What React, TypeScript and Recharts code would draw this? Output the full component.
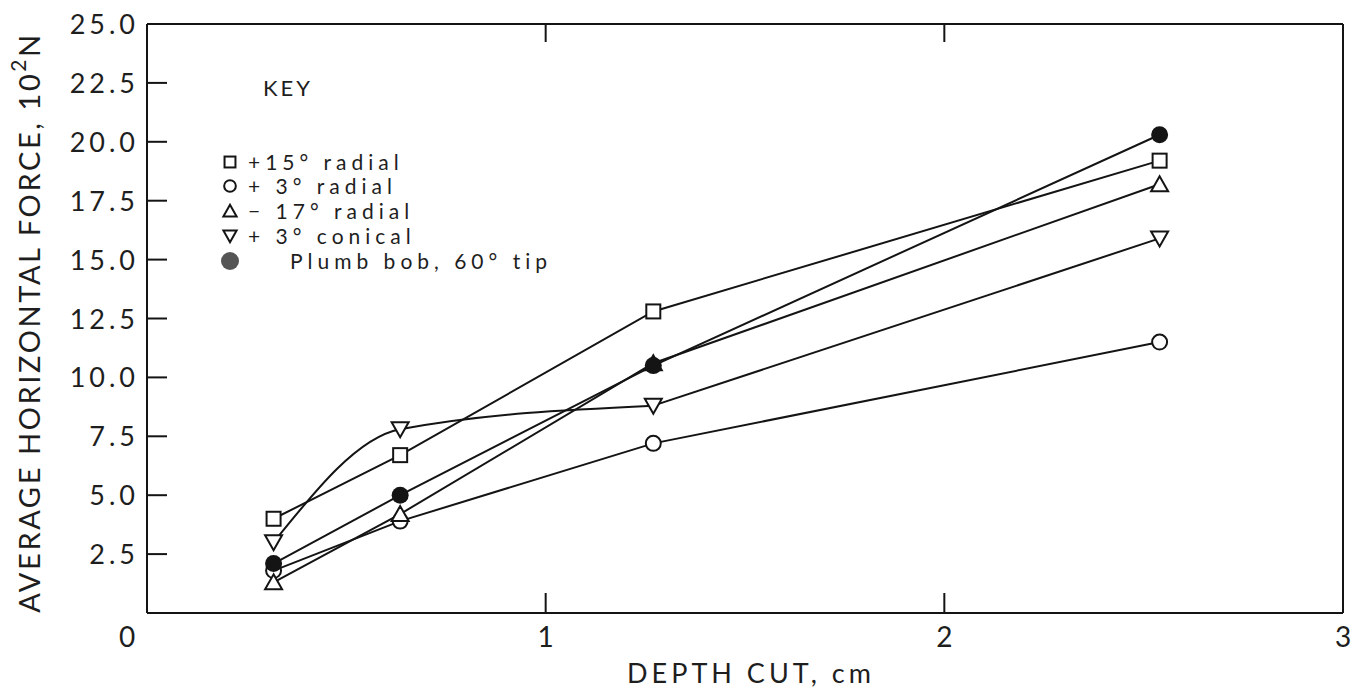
import React from "react";
import {
  LineChart,
  Line,
  XAxis,
  YAxis,
  Legend,
} from "recharts";

// depth of cut, cm (1/8, 1/4, 1/2, 1 in)
const depth = [0.3175, 0.635, 1.27, 2.54];

// average horizontal force, 10^2 N
const radial15 = [4.0, 6.7, 12.8, 19.2];
const radial3 = [1.8, 3.9, 7.2, 11.5];
const radialNeg17 = [1.3, 4.2, 10.6, 18.2];
const conical3 = [3.0, 7.8, 8.8, 15.9];
const plumbBob = [2.1, 5.0, 10.5, 20.3];

const xTicks = [0, 1, 2, 3];
const yTicks = [2.5, 5, 7.5, 10, 12.5, 15, 17.5, 20, 22.5, 25];

const SERIES = [
  { key: "r15", label: "+15° radial", shape: "square", values: radial15 },
  { key: "r3", label: "+ 3° radial", shape: "circle", values: radial3 },
  { key: "rm17", label: "− 17° radial", shape: "up", values: radialNeg17 },
  { key: "c3", label: "+ 3° conical", shape: "down", values: conical3 },
  { key: "pb", label: "Plumb bob, 60° tip", shape: "filled", values: plumbBob },
];

const data = depth.map((d, i) => {
  const row: Record<string, number | null> = { depth: d };
  SERIES.forEach((s) => (row[s.key] = s.values[i]));
  // the conical curve is bent over the first three points, straight after
  row.c3curve = i <= 2 ? conical3[i] : null;
  row.c3tail = i >= 2 ? conical3[i] : null;
  return row;
});

const INK = "#141414";
const TXT = "#1e1e1e";
const FONT = "Lato, 'DejaVu Sans', sans-serif";
const Y_W = 60; // left axis width (labels live here)
const X_H = 70; // bottom axis height

function Marker({ shape, cx, cy, s = 1, legend = false }: any) {
  const sw = 2;
  if (shape === "square") {
    const h = 7 * s;
    return <rect x={cx - h} y={cy - h} width={h * 2} height={h * 2} fill="#fff" stroke={INK} strokeWidth={sw} />;
  }
  if (shape === "circle") {
    return <circle cx={cx} cy={cy} r={7.5 * s} fill="#fff" stroke={INK} strokeWidth={sw} />;
  }
  if (shape === "up") {
    return (
      <polygon
        points={`${cx},${cy - 8 * s} ${cx - 8.5 * s},${cy + 7 * s} ${cx + 8.5 * s},${cy + 7 * s}`}
        fill="#fff"
        stroke={INK}
        strokeWidth={sw}
      />
    );
  }
  if (shape === "down") {
    return (
      <polygon
        points={`${cx - 8.5 * s},${cy - 7 * s} ${cx + 8.5 * s},${cy - 7 * s} ${cx},${cy + 8 * s}`}
        fill="#fff"
        stroke={INK}
        strokeWidth={sw}
      />
    );
  }
  return <circle cx={cx} cy={cy} r={legend ? 9 : 8.5} fill={legend ? "#555" : INK} />;
}

// tick renderers: ticks point inward, labels drawn by hand
const LeftTick = ({ x, y, payload }: any) => (
  <g>
    {payload.value < 25 && <line x1={x} x2={x + 20} y1={y} y2={y} stroke={INK} strokeWidth={2} />}
    <text x={x - 8} y={y + 10} textAnchor="end" fontFamily={FONT} fontSize={27} letterSpacing={4} fill={TXT}>
      {payload.value.toFixed(1)}
    </text>
  </g>
);

const RightTick = ({ x, y }: any) => (
  <line x1={x} x2={x - 20} y1={y} y2={y} stroke={INK} strokeWidth={2} />
);

const BottomTick = ({ x, y, payload }: any) => (
  <g>
    {payload.value > 0 && payload.value < 3 && (
      <line x1={x} x2={x} y1={y} y2={y - 20} stroke={INK} strokeWidth={2} />
    )}
    <text
      x={payload.value === 0 ? x - 20 : x}
      y={y + 34}
      textAnchor="middle"
      fontFamily={FONT}
      fontSize={28}
      fill={TXT}
    >
      {payload.value}
    </text>
  </g>
);

const TopTick = ({ x, y }: any) => (
  <line x1={x} x2={x} y1={y} y2={y + 18} stroke={INK} strokeWidth={2} />
);

function KeyBox() {
  const rowY = [102, 126, 151, 176, 201];
  return (
    <svg width={340} height={230} style={{ overflow: "visible" }}>
      <text x={53} y={36} fontFamily={FONT} fontSize={22} letterSpacing={3} fill={TXT}>
        KEY
      </text>
      {SERIES.map((s, i) => (
        <g key={s.key}>
          <Marker shape={s.shape} cx={20} cy={rowY[i]} s={0.78} legend />
          <text
            x={s.shape === "filled" ? 80 : 38}
            y={rowY[i] + 7.5}
            fontFamily={FONT}
            fontSize={21}
            letterSpacing={5}
            fill={TXT}
          >
            {s.label}
          </text>
        </g>
      ))}
    </svg>
  );
}

export default function App() {
  const dotFor = (shape: string, key: string) => (p: any) =>
    <Marker key={`${key}-${p.index}`} shape={shape} cx={p.cx} cy={p.cy} />;

  return (
    <div style={{ position: "absolute", left: 0, top: 0, background: "#fff" }}>
      <LineChart
        width={1364}
        height={691}
        data={data}
        margin={{ top: 23, right: 20, bottom: 691 - 613 - X_H, left: 147 - Y_W }}
      >
        <XAxis
          dataKey="depth"
          type="number"
          domain={[0, 3]}
          ticks={xTicks}
          height={X_H}
          tickSize={0}
          tickMargin={0}
          tickLine={false}
          axisLine={{ stroke: INK, strokeWidth: 2 }}
          tick={<BottomTick />}
          interval={0}
          label={({ viewBox }: any) => (
            <text
              x={viewBox.x + viewBox.width / 2 + 6}
              y={viewBox.y + 70}
              textAnchor="middle"
              fontFamily={FONT}
              fontSize={27}
              letterSpacing={4}
              fill={TXT}
            >
              DEPTH CUT, cm
            </text>
          )}
        />
        <XAxis
          xAxisId="top"
          orientation="top"
          dataKey="depth"
          type="number"
          domain={[0, 3]}
          ticks={[1, 2]}
          height={1}
          tickSize={0}
          tickMargin={0}
          tickLine={false}
          axisLine={{ stroke: INK, strokeWidth: 2 }}
          tick={<TopTick />}
          interval={0}
        />
        <YAxis
          type="number"
          domain={[0, 25]}
          ticks={yTicks}
          width={Y_W}
          tickSize={0}
          tickMargin={0}
          tickLine={false}
          axisLine={{ stroke: INK, strokeWidth: 2 }}
          tick={<LeftTick />}
          interval={0}
          label={({ viewBox }: any) => {
            const cx = viewBox.x - 59;
            const cy = viewBox.y + viewBox.height / 2 + 4;
            return (
              <text
                x={cx}
                y={cy}
                transform={`rotate(-90 ${cx} ${cy})`}
                textAnchor="middle"
                dominantBaseline="central"
                fontFamily={FONT}
                fontSize={29}
                letterSpacing={2.6}
                fill={TXT}
              >
                AVERAGE HORIZONTAL FORCE, 10
                <tspan fontSize={21} dy={-11}>2</tspan>
                <tspan dy={11}>N</tspan>
              </text>
            );
          }}
        />
        <YAxis
          yAxisId="right"
          orientation="right"
          type="number"
          domain={[0, 25]}
          ticks={yTicks.slice(0, -1)}
          width={1}
          tickSize={0}
          tickMargin={0}
          tickLine={false}
          axisLine={{ stroke: INK, strokeWidth: 2 }}
          tick={<RightTick />}
          interval={0}
        />
        <Legend
          layout="vertical"
          align="center"
          verticalAlign="middle"
          wrapperStyle={{ left: 210, top: 60, width: 340, height: 230 }}
          content={() => <KeyBox />}
        />
        {/* conical line: curved over the first three points, straight tail after */}
        <Line
          dataKey="c3curve"
          type="monotone"
          stroke={INK}
          strokeWidth={2}
          isAnimationActive={false}
          activeDot={false}
          dot={false}
          legendType="none"
        />
        <Line
          dataKey="c3tail"
          type="linear"
          stroke={INK}
          strokeWidth={2}
          isAnimationActive={false}
          activeDot={false}
          dot={false}
          legendType="none"
        />
        {SERIES.map((s) => (
          <Line
            key={s.key}
            dataKey={s.key}
            type="linear"
            stroke={s.key === "c3" ? "none" : INK}
            strokeWidth={2}
            isAnimationActive={false}
            activeDot={false}
            dot={dotFor(s.shape, s.key)}
          />
        ))}
      </LineChart>
    </div>
  );
}
